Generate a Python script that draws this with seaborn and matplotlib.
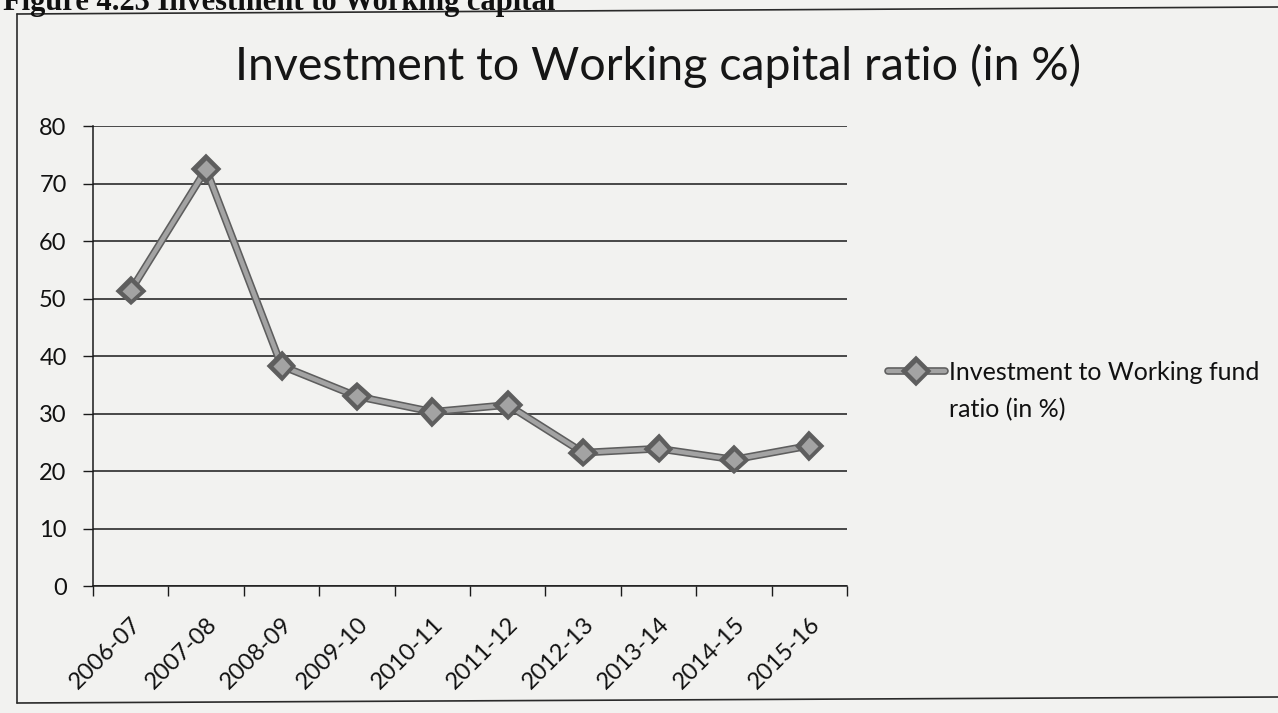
import matplotlib
matplotlib.use("Agg")
import matplotlib.pyplot as plt
import matplotlib.patheffects as pe
from matplotlib.lines import Line2D
from matplotlib.ticker import FixedLocator, NullFormatter
import numpy as np
import pandas as pd
import seaborn as sns

# Investment to working capital ratio by financial year
years = ["2006-07", "2007-08", "2008-09", "2009-10", "2010-11",
         "2011-12", "2012-13", "2013-14", "2014-15", "2015-16"]
ratio_pct = [51.4, 72.5, 38.3, 33.0, 30.3, 31.5, 23.2, 23.9, 22.0, 24.4]
y_ticks = [0, 10, 20, 30, 40, 50, 60, 70, 80]

series_lines = ["Investment to Working fund", "ratio (in %)"]
series_name = " ".join(series_lines)
chart_title = "Investment to Working capital ratio (in %)"
caption = "Figure 4.23 Investment to Working capital"

df = pd.DataFrame({"Year": years, "Ratio": ratio_pct, "Series": series_name})

sns.set_theme(style="white")
plt.rcParams["font.family"] = ["Lato", "DejaVu Sans"]

W, H = 1278, 713
paper = "#f2f2f0"
ink = "#111111"
fig = plt.figure(figsize=(W / 100, H / 100), dpi=100, facecolor=paper)
ax = fig.add_axes([0.0728, 0.178, 0.59, 0.6452])
ax.set_facecolor(paper)

line_fill = "#a3a3a3"
line_edge = "#5e5e5e"
outline = [pe.Stroke(linewidth=5.5, foreground=line_edge), pe.Normal()]
sns.lineplot(data=df, x="Year", y="Ratio", hue="Series", palette=[line_fill],
             marker="D", markersize=10, markerfacecolor=line_fill,
             markeredgecolor=line_edge, markeredgewidth=1.0,
             linewidth=3.2, sort=False, ax=ax, zorder=5)
for ln in ax.get_lines():
    ln.set_path_effects(outline)

ax.set_xlim(-0.5, len(years) - 0.5)
ax.set_ylim(0, 80)
ax.set_xlabel("")
ax.set_ylabel("")

# Y axis: black gridlines at every 10, outward ticks
ax.yaxis.set_major_locator(FixedLocator(y_ticks))
ax.yaxis.grid(True, color="#1a1a1a", linewidth=1.1)
ax.xaxis.grid(False)
ax.tick_params(axis="y", which="major", direction="out", length=7, width=1.0,
               color="#1a1a1a", labelsize=17, labelcolor=ink, pad=12, left=True)

# X axis: labels at category centres, tick marks at category boundaries
ax.set_xticks(range(len(years)))
ax.set_xticklabels(years, rotation=45, ha="right", va="top", rotation_mode="anchor")
ax.tick_params(axis="x", which="major", length=0, labelsize=17,
               labelcolor=ink, pad=20)
ax.xaxis.set_minor_locator(FixedLocator(np.arange(-0.5, len(years), 1.0)))
ax.xaxis.set_minor_formatter(NullFormatter())
ax.tick_params(axis="x", which="minor", direction="out", length=7, width=1.0,
               color="#1a1a1a", bottom=True)

for side in ["top", "right"]:
    ax.spines[side].set_visible(False)
for side in ["left", "bottom"]:
    ax.spines[side].set_color("#1a1a1a")
    ax.spines[side].set_linewidth(1.1)

# Legend to the right of the plot; the label wraps onto a second line
handles, _ = ax.get_legend_handles_labels()
ax.legend_.remove()
leg = fig.legend(handles, [series_lines[0]], loc="center left",
                 bbox_to_anchor=(875 / W, 1 - 372 / H), frameon=False,
                 fontsize=18, handlelength=2.3, handletextpad=0.15,
                 borderpad=0, labelcolor=ink)
for h in leg.legend_handles:
    h.set_path_effects(outline)
fig.canvas.draw()
first = leg.get_texts()[0].get_window_extent()
fig.text(first.x0 / W, (first.y0 - 38) / H, series_lines[1], ha="left",
         va="bottom", fontsize=18, color=ink)

# Chart title
fig.text(658 / W, 1 - 66 / H, chart_title, ha="center", va="center",
         fontsize=33.5, color="#161616")

# Chart frame and the document caption above it
frame_kw = dict(color="#2a2a2a", linewidth=1.2, transform=fig.transFigure)
fig.add_artist(Line2D([17 / W, 1.0], [1 - 14 / H, 1 - 7 / H], **frame_kw))
fig.add_artist(Line2D([17 / W, 1.0], [1 - 703 / H, 1 - 697 / H], **frame_kw))
fig.add_artist(Line2D([17 / W, 17 / W], [1 - 14 / H, 1 - 703 / H], **frame_kw))
fig.text(3 / W, 1 - 10 / H, caption, ha="left", va="baseline",
         fontsize=22, fontweight="bold", family=["Liberation Serif", "DejaVu Serif"],
         color=ink)

fig.savefig("out.png", dpi=100, facecolor=paper)
